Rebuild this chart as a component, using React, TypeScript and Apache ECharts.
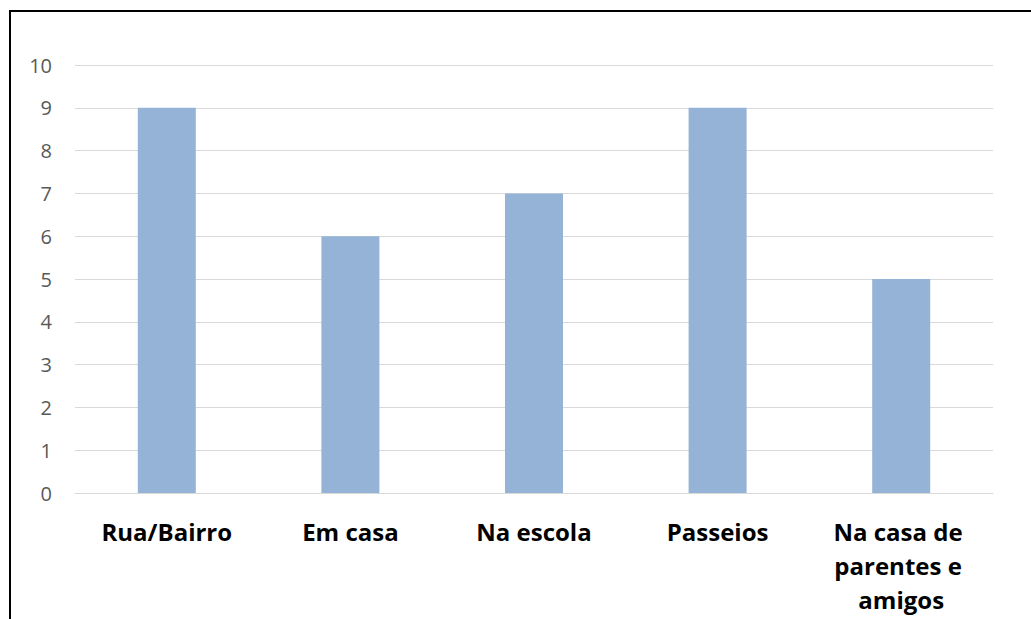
import React, { useEffect, useRef } from "react";
import * as echarts from "echarts";

// Locais citados e número de respostas
const categories = ["Rua/Bairro", "Em casa", "Na escola", "Passeios", "Na casa de parentes e amigos"];
const values = [9, 6, 7, 9, 5];
const yTicks = [0, 1, 2, 3, 4, 5, 6, 7, 8, 9, 10];

const FONT = "'Open Sans', 'Liberation Sans', sans-serif";

export default function App() {
  const ref = useRef<HTMLDivElement>(null);

  useEffect(() => {
    if (!ref.current) return;
    const chart = echarts.init(ref.current, null, { renderer: "svg" });
    chart.setOption({
      animation: false,
      backgroundColor: "#ffffff",
      grid: { left: 75, right: 38, top: 65, bottom: 126, containLabel: false },
      xAxis: {
        type: "category",
        data: categories,
        axisLine: { show: true, lineStyle: { color: "#D9D9D9", width: 1 } },
        axisTick: { show: false },
        axisLabel: {
          interval: 0,
          margin: 21,
          color: "#000000",
          fontFamily: FONT,
          fontWeight: "bold",
          fontSize: 24,
          lineHeight: 34,
          width: 150,
          overflow: "break",
          align: "center",
        },
      },
      yAxis: {
        type: "value",
        min: yTicks[0],
        max: yTicks[yTicks.length - 1],
        interval: 1,
        axisLine: { show: false },
        axisTick: { show: false },
        splitLine: { show: true, lineStyle: { color: "#D9D9D9", width: 1 } },
        axisLabel: {
          margin: 23,
          color: "#595959",
          fontFamily: FONT,
          fontSize: 20,
        },
      },
      series: [
        {
          type: "bar",
          data: values,
          barWidth: 58,
          itemStyle: { color: "#95B3D7" },
        },
      ],
      graphic: [
        {
          type: "line",
          shape: { x1: 9, y1: 11, x2: 1031, y2: 11 },
          style: { stroke: "#000000", lineWidth: 2 },
        },
        {
          type: "line",
          shape: { x1: 10, y1: 10, x2: 10, y2: 619 },
          style: { stroke: "#000000", lineWidth: 2 },
        },
      ],
    });
    return () => chart.dispose();
  }, []);

  return (
    <div
      ref={ref}
      style={{ position: "fixed", left: 0, top: 0, width: 1031, height: 619 }}
    />
  );
}
